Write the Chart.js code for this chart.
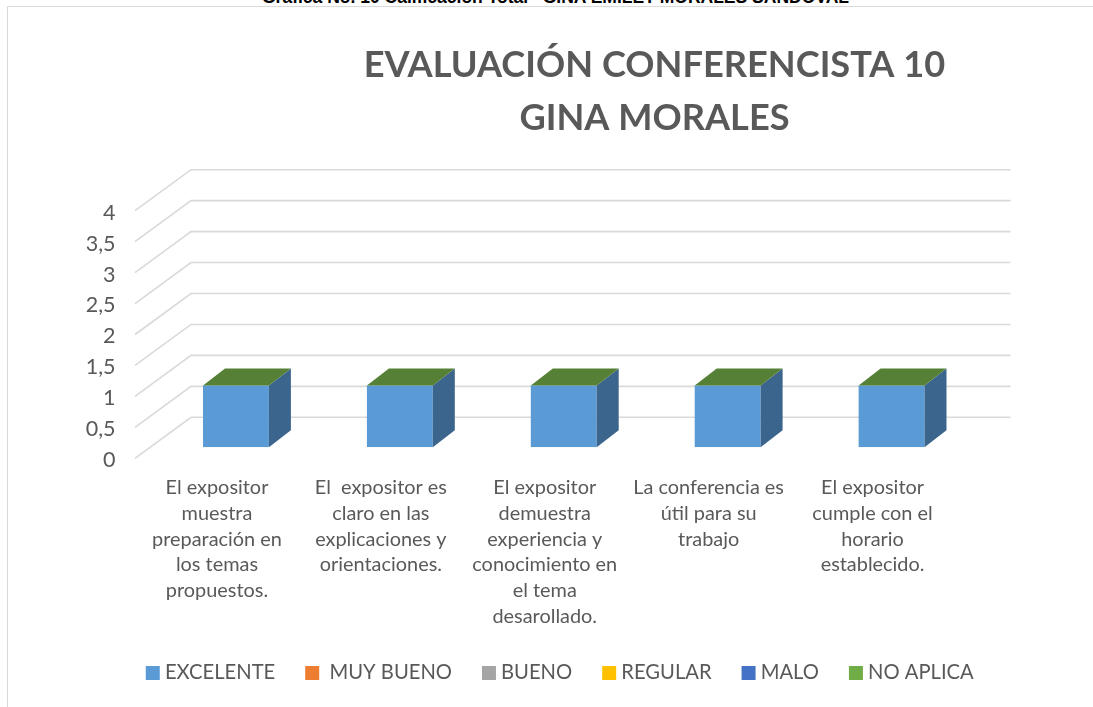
<!DOCTYPE html>
<html><head><meta charset="utf-8">
<style>
html,body{margin:0;padding:0;background:#fff;overflow:hidden}
#wrap{position:relative;width:1093px;height:707px;overflow:hidden}
#cap{position:absolute;left:9px;width:1093px;top:-13.5px;text-align:center;font:bold 17.5px "Liberation Sans",sans-serif;color:#000;white-space:pre}
#frame{position:absolute;left:7px;top:6px;width:1086px;height:701px;border-left:1.5px solid #d9d9d9;border-top:1.5px solid #d9d9d9;box-sizing:border-box}
canvas{position:absolute;left:0;top:0}
</style>
<script src="https://cdn.jsdelivr.net/npm/chart.js@4/dist/chart.umd.min.js"></script>
</head><body><div id="wrap">
<div id="cap">Gráfica No. 10 Calificación Total   GINA EMILET MORALES SANDOVAL</div>
<div id="frame"></div>
<canvas id="c" width="1093" height="707"></canvas></div>
<script>
const categories=[
 ["El expositor","muestra","preparación en","los temas","propuestos."],
 ["El  expositor es","claro en las","explicaciones y","orientaciones."],
 ["El expositor","demuestra","experiencia y","conocimiento en","el tema","desarollado."],
 ["La conferencia es","útil para su","trabajo"],
 ["El expositor","cumple con el","horario","establecido."]];
const seriesNames=["EXCELENTE"," MUY BUENO","BUENO","REGULAR","MALO","NO APLICA"];
const seriesColors=["#5b9bd5","#ed7d31","#a5a5a5","#ffc000","#4472c4","#70ad47"];
const excelente=[1,1,1,1,1];
const muyBueno=[0,0,0,0,0];
const bueno=[0,0,0,0,0];
const regular=[0,0,0,0,0];
const malo=[0,0,0,0,0];
const noAplica=[0,0,0,0,0];
const seriesValues=[excelente,muyBueno,bueno,regular,malo,noAplica];
const titleLines=["EVALUACIÓN CONFERENCISTA 10","GINA MORALES"];

const wallDX=56, wallDY=41, barDX=19, barDY=11, depthDX=22, depthDY=17;
const threeD={id:'threeD',
 afterLayout(chart){
  if(chart.titleBlock){chart.titleBlock.left=216;chart.titleBlock.right=1093;}
  if(chart.legend){chart.legend.left+=85;chart.legend.right+=85;}
 },
 beforeDatasetsDraw(chart){
  const c=chart.ctx,y=chart.scales.y,a=chart.chartArea;
  c.save();c.strokeStyle='#d9d9d9';c.lineWidth=1.6;
  y.ticks.forEach((t,i)=>{
   const py=y.getPixelForTick(i);
   c.beginPath();c.moveTo(a.left,py);c.lineTo(a.left+wallDX,py-wallDY);c.lineTo(a.right+wallDX,py-wallDY);c.stroke();
  });
  c.restore();
  c.save();c.translate(barDX,-barDY);
 },
 afterDatasetsDraw(chart){
  const c=chart.ctx;
  const base=chart.getDatasetMeta(0), top=chart.getDatasetMeta(seriesValues.length-1);
  base.data.forEach((b,i)=>{
   const w=b.width/2,l=b.x-w,r=b.x+w,ty=top.data[i].y,by=b.base;
   c.fillStyle='#3b658c';
   c.beginPath();c.moveTo(r,ty);c.lineTo(r+depthDX,ty-depthDY);c.lineTo(r+depthDX,by-depthDY);c.lineTo(r,by);c.closePath();c.fill();
   c.fillStyle='#558035';
   c.beginPath();c.moveTo(l,ty);c.lineTo(l+depthDX,ty-depthDY);c.lineTo(r+depthDX,ty-depthDY);c.lineTo(r,ty);c.closePath();c.fill();
  });
  c.restore();
 }};
new Chart(document.getElementById('c'),{
 type:'bar',
 data:{labels:categories,datasets:seriesNames.map((n,i)=>({label:n,data:seriesValues[i],backgroundColor:seriesColors[i],borderWidth:0,barPercentage:0.402,categoryPercentage:1}))},
 plugins:[threeD],
 options:{responsive:false,animation:false,
  layout:{padding:{left:0,right:138.5,top:39,bottom:14}},
  scales:{
   x:{stacked:true,grid:{display:false},border:{display:false},
      ticks:{color:'#595959',font:{family:'Lato',size:19.9,lineHeight:1.295},padding:8.5,maxRotation:0,minRotation:0,autoSkip:false},
      afterFit(s){s.height=169.5;}},
   y:{stacked:true,min:0,max:4,grid:{display:false},border:{display:false},
      ticks:{stepSize:0.5,color:'#595959',font:{family:'Lato',size:21.5},padding:11.5,labelOffset:2,callback:v=>String(v).replace('.',',')},
      afterFit(s){s.width=135;}}
  },
  plugins:{
   tooltip:{enabled:false},
   title:{display:true,text:titleLines,color:'#595959',font:{family:'Lato',size:36.2,weight:'bold',lineHeight:1.46},padding:{top:0,bottom:66}},
   legend:{position:'bottom',labels:{usePointStyle:true,pointStyle:'rect',boxWidth:4,boxHeight:14,color:'#595959',font:{family:'Lato',size:20.2},padding:35}}
  }}});
</script></body></html>
